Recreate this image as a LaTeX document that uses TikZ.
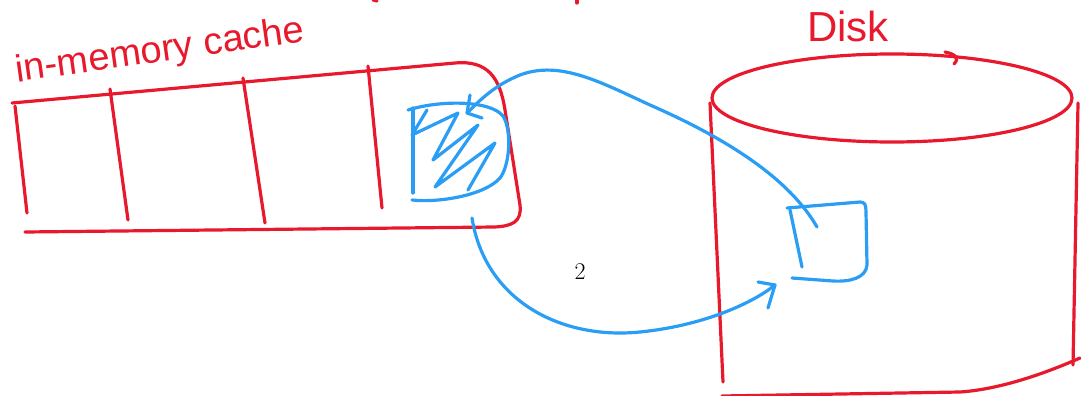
\documentclass[tikz,border=0pt]{standalone}
\usepackage{fontspec}
\newfontfamily\handfont{Liberation Sans}
\definecolor{penred}{HTML}{E8192C}
\definecolor{penblue}{HTML}{2A9DF4}
\tikzset{
  redpen/.style={draw=penred, line width=3.2pt, line cap=round, line join=round},
  bluepen/.style={draw=penblue, line width=3.2pt, line cap=round, line join=round},
  handlabel/.style={text=penred, font=\handfont\fontsize{38}{40}\selectfont, inner sep=0pt},
}
\begin{document}
\begin{tikzpicture}[x=1pt,y=-1pt]
\useasboundingbox (0,0) rectangle (1081,396);

% labels
\node[handlabel, rotate=8] (cachelabel) at (160,52) {in-memory cache};
\node[handlabel, font=\handfont\fontsize{42}{44}\selectfont] (disklabel) at (848,26) {Disk};
\node[font=\fontsize{24}{28}\selectfont, inner sep=0pt] (two) at (580,272) {2};

% stray marks at top edge
\draw[redpen] (373,0) -- (377,1);
\draw[redpen] (577,0) -- (577,3);

% in-memory cache box
\draw[redpen] (12,103) -- (455,63) .. controls (488,60) and (500,78) .. (505,110) -- (520,205) .. controls (522,222) and (512,226) .. (495,227) -- (25,232);
\draw[redpen] (15,106) -- (27,213);
\draw[redpen] (110,89) -- (128,220);
\draw[redpen] (243,78) -- (265,223);
\draw[redpen] (368,66) -- (382,208);

% hatched cache entry
\draw[bluepen] (408,110) .. controls (440,100) and (490,100) .. (503,116) .. controls (512,130) and (510,165) .. (500,178) .. controls (485,195) and (440,203) .. (412,200);
\draw[bluepen] (413,108) -- (413,193);
\draw[bluepen] (427,110) -- (412,135) -- (458,113) -- (433,160) -- (478,125) -- (435,187) -- (495,143) -- (468,190);
\coordinate (cachetip) at (467,113);
\coordinate (cachebot) at (472,218);

% disk cylinder
\draw[redpen] (892,98) ellipse [x radius=180, y radius=44];
\draw[redpen] (945,52) .. controls (955,54) and (960,58) .. (954,64);
\draw[redpen] (710,103) -- (723,382);
\draw[redpen] (1078,103) -- (1073,365);
\draw[redpen] (1080,358) .. controls (1030,380) and (990,390) .. (960,392) -- (722,396);

% disk block
\draw[bluepen] (787,208) -- (860,202) .. controls (865,202) and (866,205) .. (866,212) -- (867,265) .. controls (866,278) and (850,282) .. (833,281) -- (792,278);
\draw[bluepen] (790,210) -- (802,267);
\coordinate (diskin) at (817,227);
\coordinate (disktip) at (775,285);

% arrow 1: disk -> cache
\draw[bluepen] (diskin) .. controls (790,180) and (730,140) .. (650,105) .. controls (600,82) and (560,60) .. (520,75) .. controls (495,85) and (480,100) .. (cachetip);
\draw[bluepen] (470,95) -- (cachetip) -- (482,118);

% arrow 2: cache -> disk
\draw[bluepen] (cachebot) .. controls (485,300) and (560,340) .. (640,332) .. controls (700,326) and (750,305) .. (disktip);
\draw[bluepen] (758,282) -- (disktip) -- (768,308);
\end{tikzpicture}
\end{document}
